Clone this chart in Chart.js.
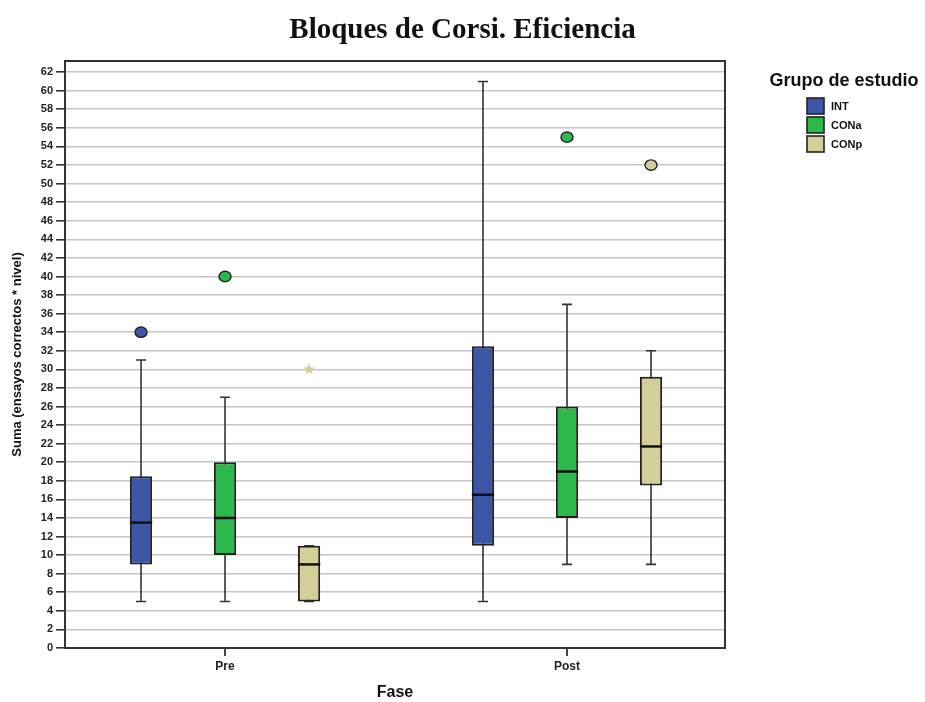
<!DOCTYPE html>
<html>
<head>
<meta charset="utf-8">
<script src="https://cdn.jsdelivr.net/npm/chart.js@4"></script>
<style>
  body { margin: 0; background: #fff; }
</style>
</head>
<body>
<canvas id="corsiChart" width="925" height="702"></canvas>
<script>
'use strict';

// Fase (eje x) y grupos
const phases = ['Pre', 'Post'];
const groups = ['INT', 'CONa', 'CONp'];

// por grupo: [Pre, Post]
const lowWhisker = [[5, 5], [5, 9], [5, 9]];
const q1 = [[9, 11], [10, 14], [5, 17.5]];
const median = [[13.5, 16.5], [14, 19], [9, 21.7]];
const q3 = [[18.5, 32.5], [20, 26], [11, 29.2]];
const highWhisker = [[31, 61], [27, 37], [11, 32]];
const outliers = [[[34], []], [[40], [55]], [[], [52]]];
const extremes = [[[], []], [[], []], [[30], []]];

const yTicks = [0, 2, 4, 6, 8, 10, 12, 14, 16, 18, 20, 22, 24, 26, 28, 30,
  32, 34, 36, 38, 40, 42, 44, 46, 48, 50, 52, 54, 56, 58, 60, 62];

const fills = ['#3d56a8', '#2db84b', '#d4cf99'];
const dark = '#222';

const datasets = groups.map((g, gi) => ({
  label: g,
  data: phases.map((p, pi) => ({ x: pi, y: [q1[gi][pi], q3[gi][pi]] })),
  backgroundColor: fills[gi],
  borderColor: dark,
  borderWidth: 2,
  borderSkipped: false,
  categoryPercentage: 0.737,
  barPercentage: 0.265
}));

// bigotes detrás de las cajas
const whiskers = {
  id: 'whiskers',
  beforeDatasetsDraw(chart) {
    const ctx = chart.ctx;
    const y = chart.scales.y;
    ctx.save();
    ctx.strokeStyle = '#333';
    ctx.lineWidth = 1.6;
    chart.data.datasets.forEach((ds, gi) => {
      chart.getDatasetMeta(gi).data.forEach((el, pi) => {
        const x = el.x;
        const lo = y.getPixelForValue(lowWhisker[gi][pi]);
        const hi = y.getPixelForValue(highWhisker[gi][pi]);
        ctx.beginPath();
        ctx.moveTo(x, hi); ctx.lineTo(x, lo);
        ctx.moveTo(x - 5, hi); ctx.lineTo(x + 5, hi);
        ctx.moveTo(x - 5, lo); ctx.lineTo(x + 5, lo);
        ctx.stroke();
      });
    });
    ctx.restore();
  },
  afterDatasetsDraw(chart) {
    const ctx = chart.ctx;
    const y = chart.scales.y;
    ctx.save();
    chart.data.datasets.forEach((ds, gi) => {
      chart.getDatasetMeta(gi).data.forEach((el, pi) => {
        const x = el.x;
        const half = el.width / 2;
        const m = y.getPixelForValue(median[gi][pi]);
        ctx.strokeStyle = '#111';
        ctx.lineWidth = 2.5;
        ctx.beginPath();
        ctx.moveTo(x - half, m); ctx.lineTo(x + half, m);
        ctx.stroke();

        outliers[gi][pi].forEach(v => {
          ctx.beginPath();
          ctx.ellipse(x, y.getPixelForValue(v), 6, 5.2, 0, 0, Math.PI * 2);
          ctx.fillStyle = fills[gi];
          ctx.fill();
          ctx.lineWidth = 1.4;
          ctx.strokeStyle = '#222';
          ctx.stroke();
        });

        extremes[gi][pi].forEach(v => {
          const cy = y.getPixelForValue(v);
          ctx.beginPath();
          for (let k = 0; k < 10; k++) {
            const r = k % 2 === 0 ? 6 : 2.6;
            const a = -Math.PI / 2 + k * Math.PI / 5;
            ctx.lineTo(x + r * Math.cos(a), cy + r * Math.sin(a));
          }
          ctx.closePath();
          ctx.fillStyle = fills[gi];
          ctx.fill();
        });
      });
    });
    ctx.restore();
  }
};

// marco y leyenda
const frameAndLegend = {
  id: 'frameAndLegend',
  afterDraw(chart) {
    const ctx = chart.ctx;
    const a = chart.chartArea;
    ctx.save();
    ctx.strokeStyle = '#333';
    ctx.lineWidth = 2;
    ctx.strokeRect(a.left, a.top, a.right - a.left, a.bottom - a.top);

    ctx.fillStyle = '#111';
    ctx.font = 'bold 18px "Liberation Sans", Arial, sans-serif';
    ctx.textAlign = 'center';
    ctx.textBaseline = 'middle';
    ctx.fillText('Grupo de estudio', 844, 81);

    ctx.font = 'bold 11px "Liberation Sans", Arial, sans-serif';
    ctx.textAlign = 'left';
    groups.forEach((g, gi) => {
      const top = 98 + gi * 19;
      ctx.fillStyle = fills[gi];
      ctx.fillRect(807, top, 17, 16);
      ctx.lineWidth = 1.6;
      ctx.strokeStyle = '#222';
      ctx.strokeRect(807, top, 17, 16);
      ctx.fillStyle = '#111';
      ctx.fillText(g, 831, top + 8.5);
    });
    ctx.restore();
  }
};

new Chart(document.getElementById('corsiChart').getContext('2d'), {
  type: 'bar',
  data: { datasets: datasets },
  options: {
    responsive: false,
    animation: false,
    layout: { padding: 0 },
    plugins: {
      legend: { display: false },
      tooltip: { enabled: false },
      title: {
        display: true,
        text: 'Bloques de Corsi. Eficiencia',
        color: '#111',
        font: { family: '"Liberation Serif", "Times New Roman", serif', size: 29, weight: 'bold' },
        padding: { top: 13, bottom: 13.2 }
      }
    },
    scales: {
      x: {
        type: 'linear',
        offset: false,
        min: -0.468,
        max: 1.462,
        afterBuildTicks: s => { s.ticks = phases.map((p, i) => ({ value: i })); },
        afterFit: s => { s.height = 54; },
        ticks: {
          autoSkip: false,
          maxRotation: 0,
          padding: 3,
          color: '#222',
          font: { family: '"Liberation Sans", Arial, sans-serif', size: 12, weight: 'bold' },
          callback: v => phases[v]
        },
        grid: { offset: false, drawOnChartArea: false, tickLength: 8, color: '#444', lineWidth: 2 },
        border: { display: false },
        title: {
          display: true,
          text: 'Fase',
          color: '#111',
          font: { family: '"Liberation Sans", Arial, sans-serif', size: 16, weight: 'bold' },
          padding: { top: 4, bottom: 0 }
        }
      },
      y: {
        min: 0,
        max: 63.2,
        afterBuildTicks: s => { s.ticks = yTicks.map(v => ({ value: v })); },
        afterFit: s => { s.width = 65; },
        ticks: {
          autoSkip: false,
          padding: 3,
          color: '#222',
          font: { family: '"Liberation Sans", Arial, sans-serif', size: 11, weight: 'bold' }
        },
        grid: { color: '#c6c6c6', lineWidth: 1.6, tickColor: '#333', tickLength: 9 },
        border: { display: true, color: '#333', width: 2 },
        title: {
          display: true,
          text: 'Suma (ensayos correctos * nivel)',
          color: '#111',
          font: { family: '"Liberation Sans", Arial, sans-serif', size: 13, weight: 'bold' },
          padding: { top: 10, bottom: 0 }
        }
      },
      // espacio reservado para la leyenda a la derecha
      legendSpace: {
        type: 'linear',
        position: 'right',
        display: true,
        afterFit: s => { s.width = 200; },
        ticks: { display: false },
        grid: { drawOnChartArea: false, drawTicks: false },
        border: { display: false }
      }
    }
  },
  plugins: [whiskers, frameAndLegend]
});
</script>
</body>
</html>
